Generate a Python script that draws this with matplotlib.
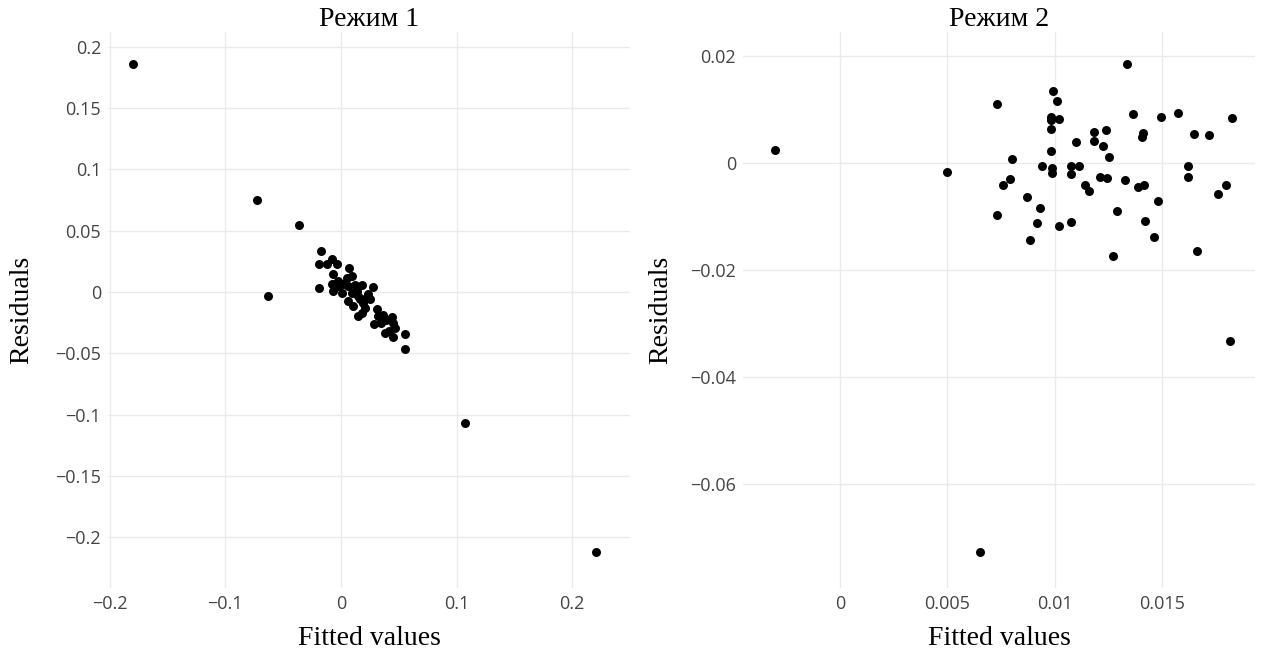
import matplotlib.pyplot as plt

plt.rcParams['font.family'] = ['Open Sans', 'DejaVu Sans']

# Режим 1: fitted values / residuals
fit1 = [-0.1798, -0.0726, -0.0631, -0.0363, 0.1072, 0.2204,
        -0.0176, -0.0187, -0.0124, -0.0075, -0.0032, -0.0066, 0.0069, 0.0092,
        -0.0187, -0.0075, -0.0023, 0.0020, -0.0066, 0.0006, 0.0063, 0.0121,
        0.0179, 0.0279, 0.0063, 0.0106, 0.0164, 0.0193, 0.0236, 0.0251,
        0.0207, 0.0150, 0.0179, 0.0309, 0.0323, 0.0288, 0.0366, 0.0389,
        0.0438, 0.0452, 0.0380, 0.0467, 0.0452, 0.0553, 0.0553, 0.0351,
        0.0415, 0.0049, -0.0023, -0.0052, 0.0092, 0.0136, 0.0150, 0.0216]
res1 = [0.1860, 0.0748, -0.0033, 0.0545, -0.1065, -0.2122,
        0.0333, 0.0225, 0.0225, 0.0266, 0.0230, 0.0149, 0.0198, 0.0135,
        0.0030, 0.0062, 0.0089, 0.0062, 0.0008, -0.0005, 0.0049, 0.0057,
        0.0054, 0.0043, -0.0073, -0.0114, -0.0060, -0.0087, -0.0019, -0.0060,
        -0.0127, -0.0195, -0.0168, -0.0141, -0.0195, -0.0258, -0.0187, -0.0230,
        -0.0203, -0.0249, -0.0331, -0.0290, -0.0366, -0.0344, -0.0466, -0.0249,
        -0.0317, 0.0116, 0.0049, 0.0062, -0.0005, 0.0008, -0.0033, -0.0046]

# Режим 2
fit2 = [-0.0030, 0.0050, 0.0073, 0.0073, 0.0080, 0.0079, 0.0076, 0.0087,
        0.0093, 0.00915, 0.00886, 0.0094, 0.00993, 0.0101, 0.00984, 0.00984,
        0.0102, 0.0098, 0.0098, 0.00986, 0.00986, 0.0102, 0.01074, 0.01074,
        0.01074, 0.01114, 0.0110, 0.01142, 0.0116, 0.0118, 0.0118, 0.01223,
        0.01238, 0.0125, 0.0121, 0.0124, 0.0129, 0.0127, 0.01333, 0.01328,
        0.01365, 0.01411, 0.01405, 0.01385, 0.01414, 0.0142, 0.0146, 0.0148,
        0.01494, 0.0157, 0.01648, 0.01716, 0.0162, 0.0162, 0.0166, 0.0176,
        0.01795, 0.01824, 0.01815, 0.0065]
res2 = [0.0024, -0.0017, 0.0110, -0.0098, 0.0006, -0.0030, -0.0042, -0.0064,
        -0.0084, -0.0112, -0.0144, -0.0007, 0.0134, 0.0116, 0.0086, 0.0079,
        0.0082, 0.0062, 0.0022, -0.0009, -0.0020, -0.0118, -0.0110, -0.0006,
        -0.0022, -0.0007, 0.0039, -0.0041, -0.0052, 0.0058, 0.0041, 0.0031,
        0.0061, 0.0010, -0.0026, -0.0029, -0.0090, -0.0175, 0.0184, -0.0032,
        0.0090, 0.0056, 0.0048, -0.0045, -0.0042, -0.0108, -0.0139, -0.0071,
        0.0085, 0.0092, 0.0053, 0.0051, -0.0006, -0.0026, -0.0165, -0.0058,
        -0.0042, 0.0083, -0.0333, -0.0727]

xticks1 = [-0.2, -0.1, 0, 0.1, 0.2]
xlabels1 = ['\u22120.2', '\u22120.1', '0', '0.1', '0.2']
yticks1 = [0.2, 0.15, 0.1, 0.05, 0, -0.05, -0.1, -0.15, -0.2]
ylabels1 = ['0.2', '0.15', '0.1', '0.05', '0', '\u22120.05', '\u22120.1', '\u22120.15', '\u22120.2']
xticks2 = [0, 0.005, 0.01, 0.015]
xlabels2 = ['0', '0.005', '0.01', '0.015']
yticks2 = [0.02, 0, -0.02, -0.04, -0.06]
ylabels2 = ['0.02', '0', '\u22120.02', '\u22120.04', '\u22120.06']

fig = plt.figure(figsize=(12.71, 6.55), dpi=100)
ax1 = fig.add_axes([108 / 1271, 1 - 588 / 655, 522 / 1271, 556 / 655])
ax2 = fig.add_axes([743 / 1271, 1 - 588 / 655, 512 / 1271, 556 / 655])

serif = ['Liberation Serif', 'DejaVu Serif']
panels = [
    (ax1, fit1, res1, 'Режим 1', xticks1, xlabels1, yticks1, ylabels1,
     (-0.2014, 0.250), (-0.2415, 0.2122), -0.142),
    (ax2, fit2, res2, 'Режим 2', xticks2, xlabels2, yticks2, ylabels2,
     (-0.0045, 0.0193), (-0.0794, 0.0244), -0.137),
]
for ax, x, y, title, xt, xl, yt, yl, xlim, ylim, ylab_x in panels:
    ax.scatter(x, y, s=42, color='black', linewidths=0, zorder=3)
    ax.set_xlim(*xlim)
    ax.set_ylim(*ylim)
    ax.set_xticks(xt)
    ax.set_xticklabels(xl)
    ax.set_yticks(yt)
    ax.set_yticklabels(yl)
    ax.grid(True, color='#ebebeb', linewidth=1)
    ax.set_axisbelow(True)
    for s in ax.spines.values():
        s.set_visible(False)
    ax.tick_params(length=0, labelsize=13, labelcolor='#444444', pad=5)
    ax.set_title(title, family=serif, fontsize=20, pad=-2)
    ax.set_xlabel('Fitted values', family=serif, fontsize=20)
    ax.set_ylabel('Residuals', family=serif, fontsize=20)
    ax.xaxis.set_label_coords(0.5, -0.068)
    ax.yaxis.set_label_coords(ylab_x, 0.5)

fig.savefig('out.png', dpi=100)
